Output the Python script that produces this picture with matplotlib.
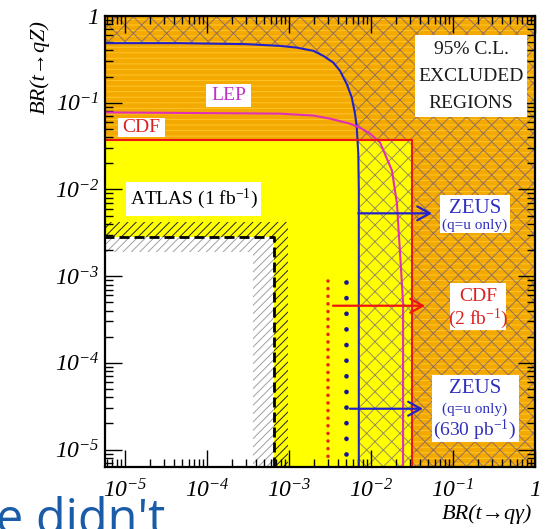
import matplotlib
matplotlib.use("Agg")
import matplotlib.pyplot as plt
from matplotlib.patches import Rectangle
from matplotlib.ticker import LogLocator, FuncFormatter, NullFormatter
import numpy as np

serif = ["Liberation Serif", "DejaVu Serif"]
plt.rcParams["font.family"] = serif
plt.rcParams["font.style"] = "italic"
plt.rcParams["mathtext.default"] = "regular"
plt.rcParams["hatch.linewidth"] = 0.7

# Axis ranges
x_range = [5.7e-6, 1.0]
y_range = [6.3e-6, 1.0]

# ZEUS (q=u only) 95% CL contour
zeus_x = [5.0e-6, 4.69e-5, 3.05e-4, 7.76e-4, 1.24e-3, 1.98e-3, 2.62e-3, 3.47e-3,
          4.19e-3, 5.06e-3, 5.82e-3, 6.39e-3, 6.70e-3, 7.0e-3, 7.1e-3, 7.1e-3]
zeus_y = [0.486, 0.486, 0.473, 0.452, 0.432, 0.396, 0.347, 0.290,
          0.233, 0.164, 0.115, 0.0741, 0.052, 0.0257, 0.01, 5.0e-6]

# LEP contour
lep_x = [5.0e-6, 7.76e-4, 1.96e-3, 3.16e-3, 5.5e-3, 7.3e-3, 9.7e-3, 1.29e-2,
         1.8e-2, 2.07e-2, 2.26e-2, 2.46e-2, 2.46e-2]
lep_y = [0.0774, 0.0748, 0.0711, 0.0655, 0.0574, 0.0516, 0.0441, 0.0347,
         0.0165, 0.0069, 0.00184, 4.9e-4, 5.0e-6]

# CDF box limits
cdf_x = 0.0313
cdf_y = 0.0373

# ATLAS 1 fb-1 expected sensitivity: inner band edge, central, outer band edge
atlas_x = [3.64e-4, 6.56e-4, 9.7e-4]
atlas_y = [1.89e-3, 2.83e-3, 4.18e-3]

# expected limits (dotted) CDF 2 fb-1 and ZEUS 630 pb-1
cdf_exp_x = 2.96e-3
cdf_exp_y = [8.8e-4, 7.8e-6]
zeus_exp_x = 4.9e-3
zeus_exp_y = [8.6e-4, 8.0e-6]

# arrows: (start x, tip x, y)
arrow_zeus = (7.0e-3, 0.0555, 5.3e-3)
arrow_cdf = (3.44e-3, 0.0456, 4.56e-4)
arrow_zeus630 = (5.55e-3, 0.043, 2.96e-5)

c_orange = "#f4a900"
c_texture = "#fdc62a"
c_yellow = "#ffff00"
c_zeus = "#2222cc"
c_lep = "#e030b8"
c_cdf = "#ee1515"
c_xhatch = (0.33, 0.28, 0.6, 0.6)

fig = plt.figure(figsize=(5.48, 5.29), dpi=100)
ax = fig.add_axes([0.1916, 0.1172, 0.7847, 0.8526])
ax.set_xscale("log")
ax.set_yscale("log")
ax.set_facecolor(c_orange)

# fine texture of the excluded region
ax.add_patch(Rectangle((0, 0), 1, 1, transform=ax.transAxes, facecolor="none",
                       edgecolor=c_texture, hatch="---", lw=0, zorder=0.1))

# inside CDF limits
ax.add_patch(Rectangle((1e-7, 1e-7), cdf_x - 1e-7, cdf_y - 1e-7,
                       facecolor=c_yellow, lw=0, zorder=0.2))

# ATLAS bands
ax.add_patch(Rectangle((1e-7, 1e-7), atlas_x[2] - 1e-7, atlas_y[2] - 1e-7,
                       facecolor="none", edgecolor="#202020", hatch="////",
                       lw=0, zorder=0.3))
ax.add_patch(Rectangle((1e-7, 1e-7), atlas_x[1] - 1e-7, atlas_y[1] - 1e-7,
                       facecolor="white", edgecolor="#a0a0a0", hatch="////",
                       lw=0, zorder=0.4))
ax.add_patch(Rectangle((1e-7, 1e-7), atlas_x[0] - 1e-7, atlas_y[0] - 1e-7,
                       facecolor="white", lw=0, zorder=0.5))
ax.plot([1e-7, atlas_x[1], atlas_x[1]], [atlas_y[1], atlas_y[1], 1e-7],
        color="black", lw=2, ls=(0, (3.6, 1.8)), zorder=1.5)

# ZEUS excluded region (cross hatched)
hx = zeus_x + [10.0, 10.0, 1e-7]
hy = zeus_y + [1e-7, 10.0, 10.0]
ax.fill(hx, hy, facecolor="none", edgecolor=c_xhatch, hatch="xx", lw=0,
        zorder=0.6)

# contours
ax.plot(zeus_x, zeus_y, color=c_zeus, lw=1.5, zorder=2)
ax.plot(lep_x, lep_y, color=c_lep, lw=1.5, zorder=2)
ax.plot([1e-7, cdf_x, cdf_x], [cdf_y, cdf_y, 1e-7], color=c_cdf, lw=1.5,
        zorder=2)

# expected limits
ax.plot([cdf_exp_x, cdf_exp_x], cdf_exp_y, color="#e52a1a", lw=2.6,
        ls=(0, (0.01, 2.1)), dash_capstyle="round", zorder=2)
ax.plot([zeus_exp_x, zeus_exp_x], zeus_exp_y, color="#14149a", lw=3.4,
        ls=(0, (0.01, 3.3)), dash_capstyle="round", zorder=2)

for (x0, x1, yy), col in [(arrow_zeus, c_zeus), (arrow_cdf, c_cdf),
                          (arrow_zeus630, c_zeus)]:
    ax.annotate("", xy=(x1, yy), xytext=(x0, yy),
                arrowprops=dict(arrowstyle="->,head_length=0.9,head_width=0.5",
                                color=col, lw=1.6, shrinkA=0, shrinkB=0),
                zorder=2)


def box(x0, x1, y0, y1):
    ax.add_patch(Rectangle((x0, y0), x1 - x0, y1 - y0, transform=ax.transAxes,
                           facecolor="white", lw=0, zorder=2.1))


def label(x, y, s, color, size=14):
    ax.text(x, y, s, transform=ax.transAxes, ha="center", va="center",
            color=color, fontsize=size, style="normal", zorder=2.2)


box(0.721, 0.981, 0.776, 0.958)
label(0.851, 0.925, "95% C.L.", "#1a1a1a")
label(0.851, 0.865, "EXCLUDED", "#1a1a1a")
label(0.851, 0.805, "REGIONS", "#1a1a1a")

box(0.235, 0.340, 0.798, 0.849)
label(0.287, 0.823, "LEP", "#c030c8")

box(0.030, 0.140, 0.732, 0.774)
label(0.085, 0.752, "CDF", "#dd2020")

box(0.049, 0.363, 0.557, 0.632)
label(0.206, 0.594, "ATLAS (1 fb$^{-1}$)", "black")

box(0.779, 0.942, 0.519, 0.603)
label(0.860, 0.574, "ZEUS", "#3030c0", 15)
label(0.860, 0.537, "(q=u only)", "#3030c0", 11)

box(0.802, 0.933, 0.304, 0.408)
label(0.867, 0.377, "CDF", "#dd2020")
label(0.867, 0.328, "(2 fb$^{-1}$)", "#dd2020")

box(0.760, 0.963, 0.055, 0.204)
label(0.860, 0.173, "ZEUS", "#3030c0", 15)
label(0.860, 0.129, "(q=u only)", "#3030c0", 11)
label(0.860, 0.082, "(630 pb$^{-1}$)", "#3030c0")


def decade(v, pos):
    e = int(round(np.log10(v)))
    if e == 0:
        return "1"
    return r"$10^{%d}$" % e


for axis in (ax.xaxis, ax.yaxis):
    axis.set_major_locator(LogLocator(base=10, numticks=12))
    axis.set_minor_locator(LogLocator(base=10, subs=np.arange(2, 10), numticks=12))
    axis.set_major_formatter(FuncFormatter(decade))
    axis.set_minor_formatter(NullFormatter())

ax.set_xlim(x_range)
ax.set_ylim(y_range)
ax.tick_params(which="both", direction="in", top=True, right=True, width=1.0)
ax.tick_params(which="major", length=12)
ax.tick_params(which="minor", length=6)
ax.tick_params(axis="x", which="major", pad=9, labelsize=17)
ax.tick_params(axis="y", which="major", pad=4, labelsize=17)
for sp in ax.spines.values():
    sp.set_linewidth(1.6)

fig.text(0.073, 0.873, "BR(t→qZ)", rotation=90, ha="center", va="center",
         fontsize=16)
fig.text(0.889, 0.028, "BR(t→qγ)", ha="center", va="center", fontsize=16)

fig.text(-0.008, -0.009, "e didn't", ha="left", va="baseline", fontsize=35,
         style="normal", color="#1a5ca8", family=["Open Sans", "DejaVu Sans"])

fig.savefig("out.png", dpi=100)
